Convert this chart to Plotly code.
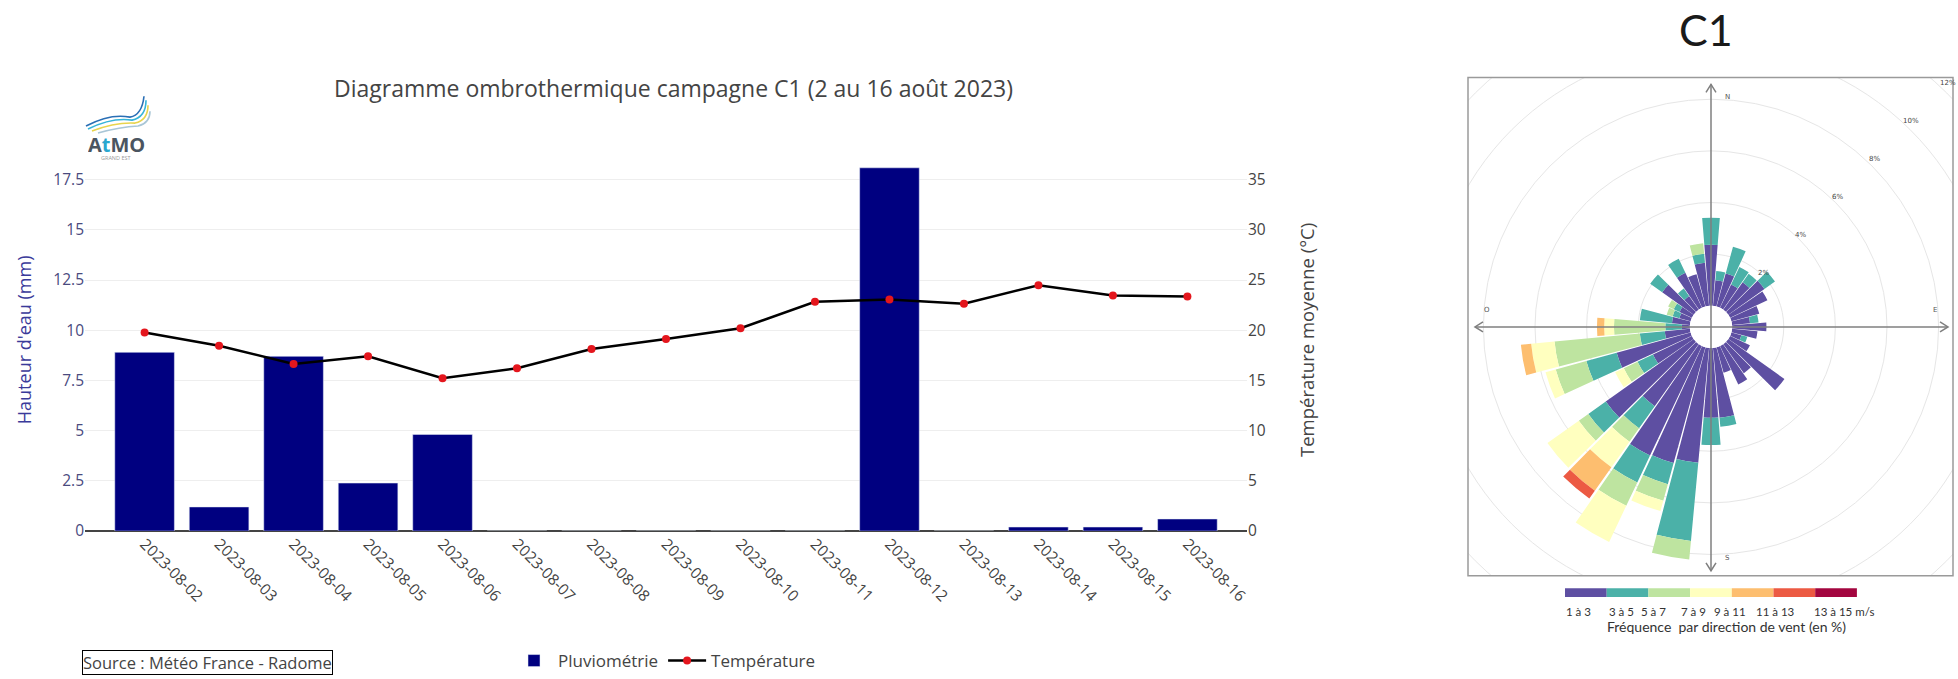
import math
import plotly.graph_objects as go

W, H = 1958, 679

# ---------------- data : diagramme ombrothermique ----------------
dates = ["2023-08-02", "2023-08-03", "2023-08-04", "2023-08-05", "2023-08-06",
         "2023-08-07", "2023-08-08", "2023-08-09", "2023-08-10", "2023-08-11",
         "2023-08-12", "2023-08-13", "2023-08-14", "2023-08-15", "2023-08-16"]
pluviometrie = [8.90, 1.20, 8.70, 2.39, 4.81, 0, 0, 0, 0, 0, 18.09, 0, 0.20, 0.20, 0.60]
temperature = [19.77, 18.46, 16.64, 17.40, 15.23, 16.22, 18.13, 19.12, 20.20, 22.84,
               23.07, 22.64, 24.49, 23.47, 23.37]
y_ticks = [0, 2.5, 5, 7.5, 10, 12.5, 15, 17.5]
y_tick_labels = ["0", "2.5", "5", "7.5", "10", "12.5", "15", "17.5"]
y2_ticks = [0, 5, 10, 15, 20, 25, 30, 35]

# ---------------- data : rose des vents (fréquence %, par secteur de 10°) ----------------
directions = list(range(0, 360, 10))
speed_1_3 = [2.36, 1.00, 1.33, 1.00, 1.30, 1.72, 1.60, 1.12, 0.70, 1.33, 0.99, 0.40,
             0.85, 2.67, 1.38, 1.65, 1.02, 2.72, 2.70, 4.47, 4.65, 4.70, 2.95, 4.18,
             1.67, 2.97, 0.98, 0.31, 0.70, 0.45, 0.53, 1.50, 0.65, 1.50, 1.30, 1.68]
speed_3_5 = [1.05, 0.36, 1.07, 0.75, 0.40, 0.50, 0, 0, 0.33, 0, 0, 0.24,
             0, 0, 0, 0, 0, 0.35, 1.06, 3.04, 0.85, 1.15, 1.05, 0.83,
             0.66, 1.22, 0.97, 0.64, 1.25, 0.27, 0.25, 0.57, 0.35, 0.60, 0, 0.35]
speed_5_7 = [0, 0, 0, 0, 0, 0, 0, 0, 0, 0, 0, 0,
             0, 0, 0, 0, 0, 0, 0, 0.72, 0.67, 1.00, 0.64, 0.45,
             0.59, 1.23, 3.32, 1.99, 0, 0.24, 0.24, 0, 0, 0, 0, 0.41]
speed_7_9 = [0, 0, 0, 0, 0, 0, 0, 0, 0, 0, 0, 0,
             0, 0, 0, 0, 0, 0, 0, 0, 0.41, 1.55, 1.21, 1.49,
             0.37, 0.41, 0.91, 0.38, 0, 0, 0, 0, 0, 0, 0, 0]
speed_9_11 = [0, 0, 0, 0, 0, 0, 0, 0, 0, 0, 0, 0,
              0, 0, 0, 0, 0, 0, 0, 0, 0, 0, 1.11, 0,
              0, 0, 0.40, 0.28, 0, 0, 0, 0, 0, 0, 0, 0]
speed_11_13 = [0, 0, 0, 0, 0, 0, 0, 0, 0, 0, 0, 0,
               0, 0, 0, 0, 0, 0, 0, 0, 0, 0, 0.37, 0,
               0, 0, 0, 0, 0, 0, 0, 0, 0, 0, 0, 0]
speed_13_15 = [0] * 36
speed_labels = ["1 à 3", "3 à 5", "5 à 7", "7 à 9", "9 à 11", "11 à 13", "13 à 15 m/s"]
speed_series = [speed_1_3, speed_3_5, speed_5_7, speed_7_9, speed_9_11, speed_11_13, speed_13_15]
pct_ticks = [2, 4, 6, 8, 10, 12]
compass = ["N", "E", "S", "O"]

# ---------------- styles ----------------
speed_colors = ["#5E4FA2", "#4BB1A8", "#BEE4A0", "#FFFFBF", "#FDBE6F", "#EC5A43", "#A3063F"]
FONT = "Open Sans, Verdana, Arial"
FONT2 = "Lato, Carlito, Arial"


def px(x):
    return x / W


def py(y):
    return 1 - y / H


def pt(x, y):
    return f"{px(x):.5f},{py(y):.5f}"


def note(text, x, y, size, color, family=FONT, xanchor="center", yanchor="middle", **kw):
    d = dict(text=text, x=px(x), y=py(y), xref="paper", yref="paper", showarrow=False,
             xanchor=xanchor, yanchor=yanchor, font=dict(size=size, color=color, family=family))
    d.update(kw)
    return d


fig = go.Figure()

# ---------- left chart ----------
fig.add_trace(go.Bar(x=dates, y=pluviometrie, name="Pluviométrie",
                     marker=dict(color="#000080"), xaxis="x", yaxis="y"))
fig.add_trace(go.Scatter(x=dates, y=temperature, name="Température", mode="lines+markers",
                         line=dict(color="black", width=2.5),
                         marker=dict(color="#E4161D", size=8),
                         xaxis="x", yaxis="y2"))

# ---------- wind rose ----------
for vals, name, col in zip(speed_series, speed_labels, speed_colors):
    r = [v if v > 0 else None for v in vals]
    if all(v is None for v in r):
        continue
    fig.add_trace(go.Barpolar(r=r, theta=directions, name=name, width=9.3,
                              marker=dict(color=col, line=dict(width=0)),
                              showlegend=False, subplot="polar"))

# rose geometry (pixels)
cx, cy = 1711.0, 329.3
R = W - cx - 0.5
hole_px = 21.3
px_per_pct = 26.0
rmax = (R - hole_px) / px_per_pct


def rose_r(v):
    return hole_px + v * px_per_pct


# plot area of left chart (pixels)
PL, PR, PB = 85, 1247, 535
ymax = 19.04
PT = PB - ymax * 20.23

shapes = []
annotations = []

# outer rings beyond the radial range of the polar subplot
for v in pct_ticks:
    if v <= rmax:
        continue
    rv = rose_r(v)
    shapes.append(dict(type="circle", xref="paper", yref="paper", layer="below",
                       x0=px(cx - rv), x1=px(cx + rv), y0=py(cy + rv), y1=py(cy - rv),
                       line=dict(color="#e6e6e6", width=1)))

# white masks outside the rose frame
BX0, BY0, BX1, BY1 = 1468, 78, 1953, 580
for (x0, y0, x1, y1) in [(1370, 0, BX0, H), (BX1, 0, W, H), (1370, 0, W, BY0), (1370, BY1, W, H)]:
    shapes.append(dict(type="rect", xref="paper", yref="paper", layer="above",
                       x0=px(x0), x1=px(x1), y0=py(y1), y1=py(y0),
                       fillcolor="white", line=dict(width=0)))

# frame
shapes.append(dict(type="rect", xref="paper", yref="paper", layer="above",
                   x0=px(BX0), x1=px(BX1), y0=py(BY1), y1=py(BY0),
                   line=dict(color="#9a9a9a", width=1.5)))

# compass arrows
AC = "#7f7f7f"
ends = [(1475, cy), (1948, cy), (cx, 85), (cx, 575)]
shapes.append(dict(type="line", xref="paper", yref="paper", layer="above",
                   x0=px(ends[0][0]), x1=px(ends[1][0]), y0=py(cy), y1=py(cy),
                   line=dict(color=AC, width=1.5)))
shapes.append(dict(type="line", xref="paper", yref="paper", layer="above",
                   x0=px(cx), x1=px(cx), y0=py(ends[2][1]), y1=py(ends[3][1]),
                   line=dict(color=AC, width=1.5)))
ah, aw = 8, 5
chevrons = [
    [(ends[0][0] + ah, cy - aw), ends[0], (ends[0][0] + ah, cy + aw)],
    [(ends[1][0] - ah, cy - aw), ends[1], (ends[1][0] - ah, cy + aw)],
    [(cx - aw, ends[2][1] + ah), ends[2], (cx + aw, ends[2][1] + ah)],
    [(cx - aw, ends[3][1] - ah), ends[3], (cx + aw, ends[3][1] - ah)],
]
for ch in chevrons:
    path = "M " + " L ".join(pt(x, y) for x, y in ch)
    shapes.append(dict(type="path", xref="paper", yref="paper", layer="above", path=path,
                       line=dict(color=AC, width=1.5)))

# compass letters
compass_pos = {"N": (cx + 16, 98), "E": (1935, 312), "S": (cx + 16, 562), "O": (1487, 312)}
for c in compass:
    x, y = compass_pos[c]
    annotations.append(note(c, x, y, 7, "#555", "DejaVu Sans"))

# percent labels along the NE diagonal
ang = math.radians(46)
for v in pct_ticks:
    rr = rose_r(v) * 1.02 + 1
    annotations.append(note(f"{v}%", cx + rr * math.cos(ang), cy - rr * math.sin(ang), 7, "#444",
                            "DejaVu Sans"))

# speed legend bar
LX0, LW, LY0, LY1 = 1565, 41.7, 592.5, 601.5
for i, col in enumerate(speed_colors):
    shapes.append(dict(type="rect", xref="paper", yref="paper", layer="above",
                       x0=px(LX0 + i * LW), x1=px(LX0 + (i + 1) * LW), y0=py(LY1), y1=py(LY0),
                       fillcolor=col, line=dict(width=0)))
label_x = [1578, 1621.5, 1653.5, 1693.5, 1729.5, 1775, 1843.5]
for lab, x in zip(speed_labels, label_x):
    annotations.append(note(lab, x, 616, 11.5, "#333", FONT2))
annotations.append(note("Fréquence  par direction de vent (en %)", 1726, 631, 14, "#333", FONT2))
annotations.append(note("C1", 1706, 30, 43, "#1a1a1a", FONT2))

# left chart texts
annotations.append(note("Diagramme ombrothermique campagne C1 (2 au 16 août 2023)",
                        673.5, 89, 23, "#444"))
annotations.append(note("Source : Météo France - Radome", 82, 667, 16.5, "#444", xanchor="left",
                        bordercolor="black", borderwidth=1, borderpad=0))

# logo (AtMO Grand Est)
logo_curves = [
    ("#2a6fb5", [(86, 127), (110, 114), (130, 118), (142, 116), (144, 97)]),
    ("#36b4d8", [(88, 130), (112, 118), (132, 121), (146, 118), (146, 101)]),
    ("#e8d44d", [(92, 132), (115, 123), (135, 124), (148, 121), (148, 106)]),
    ("#a9c6d6", [(98, 134), (120, 128), (138, 127), (150, 124), (150, 112)]),
]
for col, p in logo_curves:
    path = (f"M {pt(*p[0])} Q {pt(*p[1])} {pt(*p[2])} Q {pt(*p[3])} {pt(*p[4])}")
    shapes.append(dict(type="path", xref="paper", yref="paper", layer="above", path=path,
                       line=dict(color=col, width=1.6)))
annotations.append(note("<b>A<span style='color:#2aa7cf'>t</span>MO</b>", 116, 145, 20, "#4a5560",
                        height=20))
annotations.append(note("GRAND EST", 116, 159.5, 5.5, "#9a9a9a"))

fig.update_layout(
    width=W, height=H,
    margin=dict(l=0, r=0, t=0, b=0),
    paper_bgcolor="white", plot_bgcolor="white",
    font=dict(family=FONT, color="#444"),
    bargap=0.2,
    showlegend=True,
    legend=dict(orientation="h", x=px(510), xanchor="left", y=py(666), yanchor="middle",
                font=dict(size=17, color="#444", family=FONT), itemwidth=38,
                bgcolor="rgba(0,0,0,0)"),
    xaxis=dict(domain=[px(PL), px(PR)], type="category", range=[-0.8, 14.8],
               tickangle=45, showgrid=False, zeroline=False, ticks="",
               tickfont=dict(size=15.5, color="#444"), anchor="y", automargin=False),
    yaxis=dict(domain=[py(PB), py(PT)], range=[0, ymax], tickvals=y_ticks, ticktext=y_tick_labels,
               gridcolor="#eeeeee", gridwidth=1, zeroline=True, zerolinecolor="#444",
               zerolinewidth=2, tickfont=dict(size=15.5, color="#4a4a7e"),
               title=dict(text="Hauteur d'eau (mm)", font=dict(size=18, color="#3a3a9a"), standoff=17),
               automargin=False, anchor="x"),
    yaxis2=dict(overlaying="y", side="right", anchor="x", range=[0, 2 * ymax], tickvals=y2_ticks,
                showgrid=False, zeroline=False, tickfont=dict(size=15.5, color="#444"),
                title=dict(text="Température moyenne (°C)", font=dict(size=18.5, color="#444"), standoff=36),
                automargin=False),
    polar=dict(
        domain=dict(x=[px(cx - R), px(cx + R)], y=[py(cy + R), py(cy - R)]),
        hole=hole_px / R,
        bgcolor="rgba(0,0,0,0)",
        barmode="stack",
        radialaxis=dict(range=[0, rmax], tickvals=[v for v in pct_ticks if v <= rmax],
                        showticklabels=False, showline=False, ticks="",
                        gridcolor="#e6e6e6", gridwidth=1),
        angularaxis=dict(rotation=90, direction="clockwise", showgrid=False, showline=False,
                         showticklabels=False, ticks=""),
    ),
    shapes=shapes,
    annotations=annotations,
)

fig.write_html("out.html", config={"displayModeBar": False},
               post_script="document.body.style.margin='0px';document.body.style.overflow='hidden';")
